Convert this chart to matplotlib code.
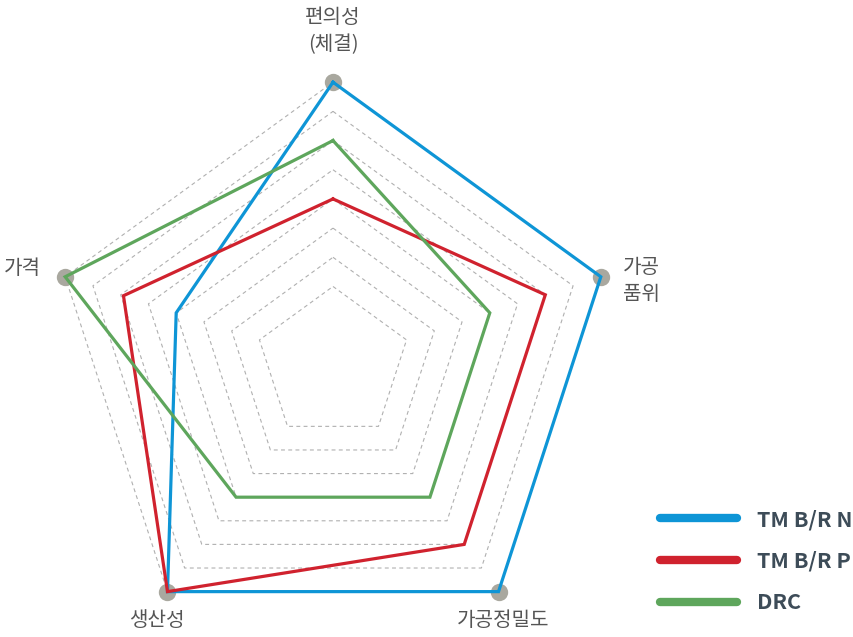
import numpy as np
import matplotlib
matplotlib.use("Agg")
import matplotlib.pyplot as plt
from matplotlib.lines import Line2D

plt.rcParams['font.family'] = ['Noto Sans CJK KR', 'DejaVu Sans']

# ---- data (clockwise from top) ----
categories = ['편의성\n(체결)', '가공\n품위', '가공정밀도', '생산성', '가격']
series_names = ['TM B/R N', 'TM B/R P', 'DRC']
tm_br_n = [8, 8, 8, 8, 4]
tm_br_p = [4, 6, 6, 8, 5.9]
drc = [6, 4, 4, 4, 8]
levels = [1, 2, 3, 4, 5, 6, 7, 8]
colors = ['#0e95d6', '#d0222e', '#5ea65c']

W, H = 854, 637
fig = plt.figure(figsize=(W / 100, H / 100), dpi=100)
cx, cy, R = 333, 363.8, 281.6
ax = fig.add_axes([(cx - R) / W, (H - cy - R) / H, 2 * R / W, 2 * R / H],
                  projection='polar')
ax.set_theta_zero_location('N')
ax.set_theta_direction(-1)
RMIN, RMAX = -1.65, 8
ax.set_ylim(RMIN, RMAX)
ax.axis('off')

n = len(categories)
theta = np.linspace(0, 2 * np.pi, n, endpoint=False)
theta_c = np.append(theta, theta[0])

for lv in levels:
    ax.plot(theta_c, [lv] * (n + 1), ls=(0, (3.5, 3)), color='#b0b0b0', lw=0.8,
            clip_on=False, zorder=1)

ax.plot(theta, [levels[-1]] * n, 'o', ms=12.5, color='#a9a89f', mec='none',
        clip_on=False, zorder=2)

for vals, c in zip([tm_br_n, tm_br_p, drc], colors):
    v = list(vals) + [vals[0]]
    ax.plot(theta_c, v, color=c, lw=2.3, clip_on=False, zorder=3,
            solid_joinstyle='miter')

lab_kw = dict(fontsize=14.5, color='#555555', linespacing=1.4)
fig.text(333 / W, 1 - 31 / H, categories[0], ha='center', va='center', **lab_kw)
fig.text(623 / W, 1 - 281 / H, categories[1], ha='left', va='center', **lab_kw)
fig.text(503 / W, 1 - 620 / H, categories[2], ha='center', va='center', **lab_kw)
fig.text(157 / W, 1 - 620 / H, categories[3], ha='center', va='center', **lab_kw)
fig.text(4 / W, 1 - 268 / H, categories[4], ha='left', va='center', **lab_kw)

handles = [Line2D([], [], color=c, lw=6, solid_capstyle='round') for c in colors]
leg = fig.legend(handles, series_names, loc='upper left',
                 bbox_to_anchor=(660 / W, 1 - 509 / H), frameon=False,
                 handlelength=3.6, handletextpad=0.92, labelspacing=0.96,
                 borderpad=0, borderaxespad=0,
                 prop=dict(family=['Noto Sans CJK KR', 'DejaVu Sans'],
                           weight='bold', size=15.5))
for t in leg.get_texts():
    t.set_color('#3d4c58')

fig.savefig('out.png', dpi=100)
